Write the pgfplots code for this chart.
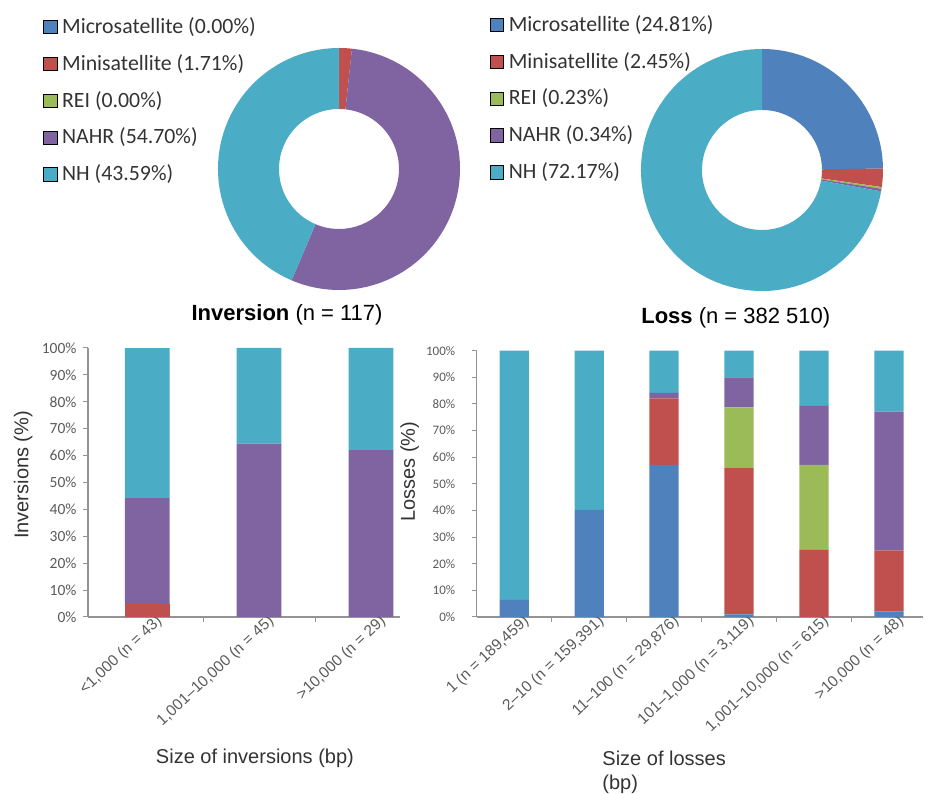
\documentclass[border=0pt]{standalone}
\usepackage{pgfplots}
\pgfplotsset{compat=1.18}
\usepackage{pgfplotstable}
\usepackage{fontspec}
\setmainfont{Liberation Sans}
\newfontfamily\calibri{Carlito}
\definecolor{cMicro}{HTML}{4F81BD}
\definecolor{cMini}{HTML}{C0504D}
\definecolor{cREI}{HTML}{9BBB59}
\definecolor{cNAHR}{HTML}{8064A2}
\definecolor{cNH}{HTML}{4BACC6}
\definecolor{axgray}{HTML}{949494}
\definecolor{tkgray}{HTML}{5A5A5A}
\definecolor{lbgray}{HTML}{333333}

\def\Rout{121pt}
\def\Rin{60pt}
\pgfdeclareplotmark{donut}{%
  \pgfmathsetmacro\aA{90-3.6*\pfrom}%
  \pgfmathsetmacro\aB{90-3.6*\pto}%
  \pgfpathmoveto{\pgfpointpolar{\aA}{\Rout}}%
  \pgfpatharc{\aA}{\aB}{\Rout}%
  \pgfpathlineto{\pgfpointpolar{\aB}{\Rin}}%
  \pgfpatharc{\aB}{\aA}{\Rin}%
  \pgfpathclose
  \pgfusepath{fill}%
}
\pgfplotsset{
  slice/.style={forget plot, only marks, mark=donut,
    mark options={fill=#1, draw=none},
    visualization depends on={\thisrow{from}\as\pfrom},
    visualization depends on={\thisrow{to}\as\pto}},
  pieaxis/.style={anchor=south west, scale only axis, width=242pt, height=242pt,
    xmin=-1, xmax=1, ymin=-1, ymax=1, hide axis, clip=false,
    legend cell align=left,
    legend image code/.code={\fill[##1] (0pt,-7.5pt) rectangle (13.5pt,6pt);},
    legend style={draw=none, fill=none, inner sep=0pt, row sep=19.4pt,
      font=\calibri\fontsize{21.8}{26}\selectfont, text=lbgray,
      nodes={inner sep=0pt},
      /tikz/every odd column/.style={column sep=5pt}}},
  baraxis/.style={anchor=south west, scale only axis,
    ybar stacked, enlargelimits=false, ymin=0, ymax=100,
    axis lines*=left, axis line style={draw=axgray, line width=1.3pt},
    tick align=outside, major tick length=5pt,
    tick style={draw=axgray, line width=1pt},
    ytick={0,10,20,30,40,50,60,70,80,90,100},
    yticklabels={0\%,10\%,20\%,30\%,40\%,50\%,60\%,70\%,80\%,90\%,100\%},
    xticklabels={},
    extra x tick style={major tick length=0pt},
    xticklabel style={rotate=43, anchor=east, font=\fontsize{15.5}{18}\selectfont, text=tkgray, inner sep=1pt, xshift=9pt, yshift=-10pt},
    xlabel style={font=\fontsize{20}{24}\selectfont, text=lbgray},
    ylabel style={font=\fontsize{20}{24}\selectfont, text=lbgray, anchor=center},
    title style={font=\fontsize{22}{26}\selectfont, anchor=center}},
}

\pgfplotstableread[row sep=\\]{
x micro mini rei nahr nh\\
0 0 4.65 0 39.53 55.81\\
1 0 0 0 64.44 35.56\\
2 0 0 0 62.07 37.93\\
}\invtable
\pgfplotstableread[row sep=\\]{
x micro mini rei nahr nh\\
0 6.4 0 0 0 93.6\\
1 40.2 0 0 0 59.8\\
2 57.1 25.0 0 2.1 15.8\\
3 1.0 54.9 22.8 11.3 10.0\\
4 0 25.2 31.9 22.2 20.7\\
5 2.1 22.9 0 52.1 22.9\\
}\losstable

\begin{document}
\begin{tikzpicture}[x=1pt,y=1pt]
\useasboundingbox (0,0) rectangle (930,794);

% ---------- Pie 1: Inversion ----------
\begin{axis}[pieaxis, at={(218pt,504pt)},
  legend style={at={(rel axis cs:-0.723,1.127)}, anchor=north west}]
\addlegendimage{fill=cMicro}\addlegendentry{Microsatellite (0.00\%)}
\addlegendimage{fill=cMini}\addlegendentry{Minisatellite (1.71\%)}
\addlegendimage{fill=cREI}\addlegendentry{REI (0.00\%)}
\addlegendimage{fill=cNAHR}\addlegendentry{NAHR (54.70\%)}
\addlegendimage{fill=cNH}\addlegendentry{NH (43.59\%)}
\addplot[slice=cMini] table[row sep=\\] {x y from to\\ 0 0 0 1.71\\};
\addplot[slice=cNAHR] table[row sep=\\] {x y from to\\ 0 0 1.71 56.41\\};
\addplot[slice=cNH] table[row sep=\\] {x y from to\\ 0 0 56.41 100\\};
\end{axis}

% ---------- Pie 2: Loss ----------
\begin{axis}[pieaxis, at={(641pt,503pt)},
  legend style={at={(rel axis cs:-0.625,1.140)}, anchor=north west}]
\addlegendimage{fill=cMicro}\addlegendentry{Microsatellite (24.81\%)}
\addlegendimage{fill=cMini}\addlegendentry{Minisatellite (2.45\%)}
\addlegendimage{fill=cREI}\addlegendentry{REI (0.23\%)}
\addlegendimage{fill=cNAHR}\addlegendentry{NAHR (0.34\%)}
\addlegendimage{fill=cNH}\addlegendentry{NH (72.17\%)}
\addplot[slice=cMicro] table[row sep=\\] {x y from to\\ 0 0 0 24.81\\};
\addplot[slice=cMini] table[row sep=\\] {x y from to\\ 0 0 24.81 27.26\\};
\addplot[slice=cREI] table[row sep=\\] {x y from to\\ 0 0 27.26 27.49\\};
\addplot[slice=cNAHR] table[row sep=\\] {x y from to\\ 0 0 27.49 27.83\\};
\addplot[slice=cNH] table[row sep=\\] {x y from to\\ 0 0 27.83 100\\};
\end{axis}

% ---------- Bars: Inversions ----------
\begin{axis}[baraxis, at={(88pt,177pt)}, width=312pt, height=269pt,
  bar width=0.4, xmin=-0.53, xmax=2.26,
  yticklabel style={font=\calibri\fontsize{15.5}{18}\selectfont, text=tkgray, xshift=-3pt},
  xtick={0.5,1.5},
  extra x ticks={0,1,2},
  extra x tick labels={{<1,000 (n = 43)},{1,001–10,000 (n = 45)},{>10,000 (n = 29)}},
  xlabel={Size of inversions (bp)},
  xlabel style={at={(axis description cs:0.535,-0.524)}, anchor=center},
  ylabel={Inversions (\%)},
  ylabel style={at={(axis description cs:-0.208,0.528)}},
  title={\textbf{Inversion} (n = 117)},
  title style={at={(axis description cs:0.638,1.100)}}]
\addplot[fill=cMicro, draw=none] table[x=x, y=micro] {\invtable};
\addplot[fill=cMini, draw=none] table[x=x, y=mini] {\invtable};
\addplot[fill=cREI, draw=none] table[x=x, y=rei] {\invtable};
\addplot[fill=cNAHR, draw=none] table[x=x, y=nahr] {\invtable};
\addplot[fill=cNH, draw=none] table[x=x, y=nh] {\invtable};
\end{axis}

% ---------- Bars: Losses ----------
\begin{axis}[baraxis, at={(476.7pt,177pt)}, width=446pt, height=266.3pt,
  bar width=0.39, xmin=-0.5, xmax=5.45,
  yticklabel style={font=\calibri\fontsize{13}{16}\selectfont, text=tkgray, xshift=-13pt},
  xtick={0.5,1.5,2.5,3.5,4.5},
  extra x ticks={0,1,2,3,4,5},
  extra x tick labels={{1 (n = 189,459)},{2–10 (n = 159,391)},{11–100 (n = 29,876)},{101–1,000 (n = 3,119)},{1,001–10,000 (n = 615)},{>10,000 (n = 48)}},
  xlabel={Size of losses\\(bp)},
  xlabel style={at={(axis description cs:0.274,-0.49)}, anchor=north west, align=left},
  ylabel={Losses (\%)},
  ylabel style={at={(axis description cs:-0.15,0.545)}},
  title={\textbf{Loss} (n = 382 510)},
  title style={at={(axis description cs:0.581,1.100)}}]
\addplot[fill=cMicro, draw=none] table[x=x, y=micro] {\losstable};
\addplot[fill=cMini, draw=none] table[x=x, y=mini] {\losstable};
\addplot[fill=cREI, draw=none] table[x=x, y=rei] {\losstable};
\addplot[fill=cNAHR, draw=none] table[x=x, y=nahr] {\losstable};
\addplot[fill=cNH, draw=none] table[x=x, y=nh] {\losstable};
\end{axis}
\end{tikzpicture}
\end{document}
